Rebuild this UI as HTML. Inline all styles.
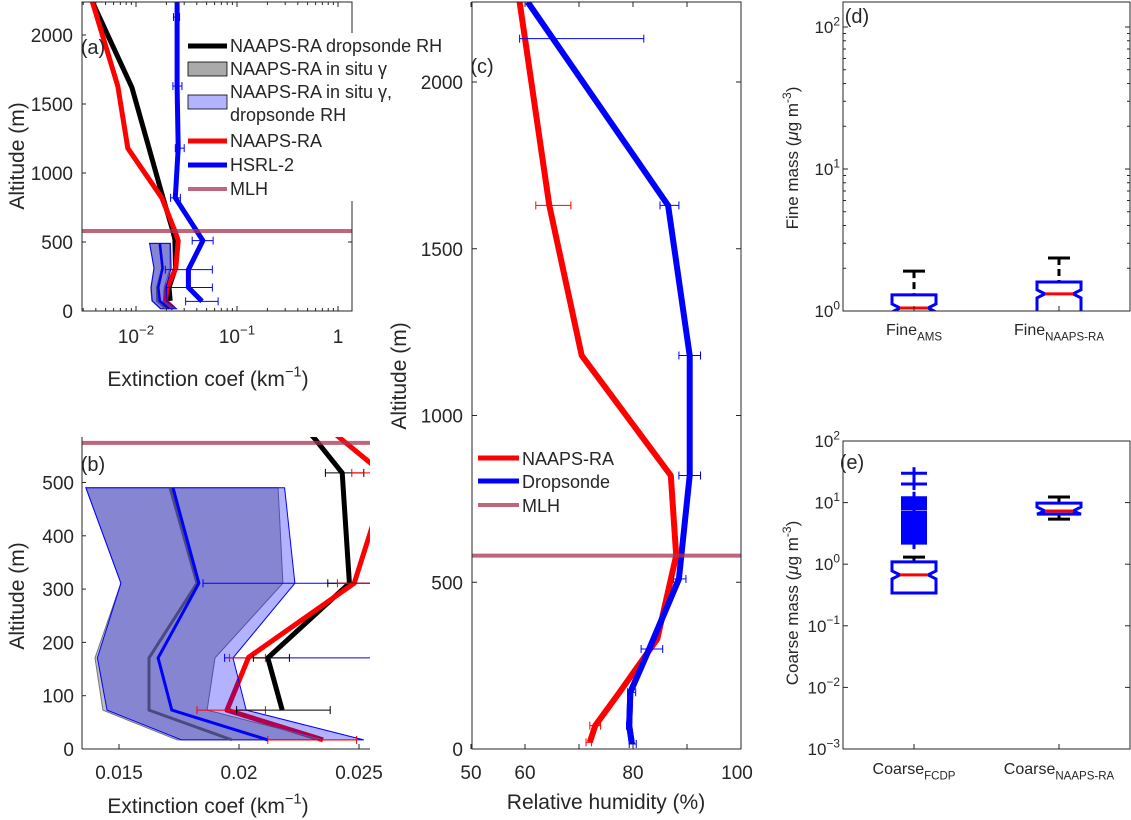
<!DOCTYPE html>
<html><head><meta charset="utf-8"><style>
html,body{margin:0;padding:0;background:#fff;}
svg{display:block;font-family:"Liberation Sans",sans-serif;}
text{fill:#262626;}
</style></head><body>
<svg id="fig" width="1131" height="820" viewBox="0 0 1131 820" xmlns="http://www.w3.org/2000/svg"></svg>
<script>
// ---- data ----
const bandAlt = [490, 311, 171, 73, 17];
const grayLo = [0.01362, 0.01508, 0.0140, 0.01433, 0.01742];
const grayHi = [0.02163, 0.02183, 0.0190, 0.01867, 0.0235];
const grayMid = [0.01713, 0.01825, 0.01625, 0.01625, 0.0197];
const blueLo = [0.01362, 0.01508, 0.01410, 0.01450, 0.01760];
const blueHi = [0.0219, 0.02233, 0.01975, 0.0203, 0.0252];
const blueMid = [0.01725, 0.01833, 0.01663, 0.0172, 0.0212];
const blackAlt = [2240, 1620, 820, 580, 518, 311, 171, 73];
const blackVal = [0.0037, 0.0091, 0.0185, 0.0232, 0.0243, 0.0246, 0.0212, 0.0218];
const redAlt = [2240, 1630, 1180, 820, 580, 510, 311, 172, 73, 17];
const redVal = [0.0037, 0.0066, 0.0083, 0.018, 0.0243, 0.0262, 0.0248, 0.0204, 0.0195, 0.0235];
const hsrlAlt = [2240, 2130, 1630, 1180, 820, 510, 300, 170, 70];
const hsrlVal = [0.0255, 0.0255, 0.0255, 0.0262, 0.0245, 0.046, 0.033, 0.033, 0.045];
const hsrlErrLo = [null, 0.0235, 0.0232, 0.0245, 0.022, 0.036, 0.0195, 0.0200, 0.031];
const hsrlErrHi = [null, 0.027, 0.0285, 0.030, 0.0275, 0.058, 0.057, 0.057, 0.065];
const mlh = 580;
// panel b error bars
const bErrAlt = [518, 518, 311, 311, 311, 171, 171, 171, 73, 73, 17];
const bErrLo = [0.0236, 0.0247, 0.0185, 0.0237, 0.0241, 0.0194, 0.0196, 0.0206, 0.01825, 0.0199, 0.0212];
const bErrHi = [0.0252, 0.026, 0.030, 0.0260, 0.026, 0.030, 0.0211, 0.0221, 0.0211, 0.0238, 0.0249];
const bErrCol = ['#000', 'red', 'blue', '#000', 'red', 'blue', 'red', '#000', 'red', '#000', 'red'];
// panel c
const rhRedAlt = [2240, 2130, 1630, 1180, 820, 580, 330, 170, 70, 20];
const rhRedVal = [59, 60, 64.5, 70.5, 87, 88, 84.5, 77.5, 73, 72];
const rhRedLo = [null, null, 62, null, null, null, null, null, 72, 71.3];
const rhRedHi = [null, null, 68.5, null, null, null, null, null, 74, 72.3];
const rhBlueAlt = [2240, 1630, 1180, 820, 510, 300, 170, 70, 15];
const rhBlueVal = [60.5, 86.5, 90.5, 90.5, 88.5, 83, 79.5, 79.3, 79.8];
const rhBlueLo = [null, 85, 88.5, 88.5, 87.5, 81.5, 79, 78.8, 79.3];
const rhBlueHi = [null, 88.5, 92.5, 92.5, 89.8, 85.5, 80.5, 79.6, 80.6];
const rhErrAlt2 = 2130, rhErrLo2 = 59, rhErrHi2 = 82;
// panel d boxes
const fineCats = ['AMS', 'NAAPS-RA'];
const fineQ1 = [0.9, 0.9], fineMed = [1.05, 1.32], fineQ3 = [1.30, 1.60], fineWhiskHi = [1.91, 2.36];
// panel e boxes
const coarseCats = ['FCDP', 'NAAPS-RA'];
const coarseQ1 = [0.34, 6.5], coarseMed = [0.67, 7.3], coarseQ3 = [1.09, 9.8];
const coarseWhiskHi = [1.3, 12.3], coarseWhiskLo = [0.34, 5.4];
const coarseOutliers = [2.2, 2.4, 2.6, 2.8, 3.0, 3.3, 3.6, 4.0, 4.4, 4.8, 5.2, 5.6, 6.0, 6.5, 7.0, 8.0, 8.5, 9.0, 10, 11, 12, 20, 30];

// ---- helpers ----
const NS = 'http://www.w3.org/2000/svg';
const svg = document.getElementById('fig');
const TICK = 19, TITLE = 21, LEG = 18, PLAB = 20;
function mk(tag, attrs, parent) {
  const e = document.createElementNS(NS, tag);
  for (const k in attrs) e.setAttribute(k, attrs[k]);
  (parent || svg).appendChild(e);
  return e;
}
function txt(s, x, y, size, anchor, parent) {
  const t = mk('text', {x: x, y: y, 'font-size': size, 'text-anchor': anchor || 'middle'}, parent);
  t.textContent = s;
  return t;
}
function sup(base, exp, x, y, size, anchor, parent) {
  const t = mk('text', {x: x, y: y, 'font-size': size, 'text-anchor': anchor || 'middle'}, parent);
  const a = document.createElementNS(NS, 'tspan'); a.textContent = base; t.appendChild(a);
  const b = document.createElementNS(NS, 'tspan'); b.setAttribute('dy', -size * 0.45); b.setAttribute('font-size', size * 0.7); b.textContent = exp; t.appendChild(b);
  return t;
}
function sub(base, s, x, y, size, parent) {
  const t = mk('text', {x: x, y: y, 'font-size': size, 'text-anchor': 'middle'}, parent);
  const a = document.createElementNS(NS, 'tspan'); a.textContent = base; t.appendChild(a);
  const b = document.createElementNS(NS, 'tspan'); b.setAttribute('dy', size * 0.35); b.setAttribute('font-size', size * 0.72); b.textContent = s; t.appendChild(b);
  return t;
}
function poly(xs, ys, fx, fy, attrs, parent) {
  const pts = xs.map((v, i) => fx(v).toFixed(1) + ',' + fy(ys[i]).toFixed(1)).join(' ');
  return mk('polyline', Object.assign({points: pts, fill: 'none'}, attrs), parent);
}
function band(lo, hi, alts, fx, fy, attrs, parent) {
  let pts = lo.map((v, i) => fx(v).toFixed(1) + ',' + fy(alts[i]).toFixed(1));
  pts = pts.concat(hi.map((v, i) => fx(v).toFixed(1) + ',' + fy(alts[i]).toFixed(1)).reverse());
  return mk('polygon', Object.assign({points: pts.join(' ')}, attrs), parent);
}
function errbar(lo, hi, y, fx, col, parent) {
  const g = mk('g', {stroke: col, 'stroke-width': 1, fill: 'none'}, parent);
  const x1 = fx(lo), x2 = fx(hi);
  mk('line', {x1: x1, x2: x2, y1: y, y2: y}, g);
  mk('line', {x1: x1, x2: x1, y1: y - 4, y2: y + 4}, g);
  mk('line', {x1: x2, x2: x2, y1: y - 4, y2: y + 4}, g);
  return g;
}
function clip(id, x, y, w, h) {
  const c = mk('clipPath', {id: id});
  mk('rect', {x: x, y: y, width: w, height: h}, c);
}
function frame(x, y, w, h, parent) {
  return mk('rect', {x: x, y: y, width: w, height: h, fill: 'none', stroke: '#262626', 'stroke-width': 1}, parent);
}
function extTitle(x, y, ax, name) {
  const xl = sup('Extinction coef (km', '\u22121', x, y, TITLE, 'middle', ax);
  const t3 = document.createElementNS(NS, 'tspan'); t3.setAttribute('dy', TITLE * 0.45); t3.setAttribute('font-size', TITLE); t3.textContent = ')'; xl.appendChild(t3);
   
}

// ---- Panel A ----
(function () {
  const L = 82, R = 352, T = 2, B = 311;
  const fx = v => 136 + (Math.log10(v) + 2) * 101;
  const fy = a => B - a * 0.138;
  clip('clipA', L, T, R - L, B - T);
  const g = mk('g', {'clip-path': 'url(#clipA)'});
  
  
  const bl = poly(blackVal, blackAlt, fx, fy, {stroke: '#000', 'stroke-width': 5, 'stroke-linejoin': 'round'}, g);
   
  const rd = poly(redVal, redAlt, fx, fy, {stroke: 'red', 'stroke-width': 5, 'stroke-linejoin': 'round'}, g);
   
  const gb = band(grayLo, grayHi, bandAlt, fx, fy, {fill: 'rgba(128,128,128,0.5)', stroke: '#666', 'stroke-width': 1}, g);
   
  const bb = band(blueLo, blueHi, bandAlt, fx, fy, {fill: 'rgba(0,0,255,0.3)', stroke: 'blue', 'stroke-width': 1}, g);
   
  poly(grayMid, bandAlt, fx, fy, {stroke: '#4a4a80', 'stroke-width': 2.5}, g);
  poly(blueMid, bandAlt, fx, fy, {stroke: 'blue', 'stroke-width': 2.5}, g);
  const hs = poly(hsrlVal, hsrlAlt, fx, fy, {stroke: 'blue', 'stroke-width': 5, 'stroke-linejoin': 'round'}, g);
   
  hsrlAlt.forEach((a, i) => { if (hsrlErrLo[i] != null) errbar(hsrlErrLo[i], hsrlErrHi[i], fy(a), fx, 'blue', g); });
  const m = mk('line', {x1: L, x2: R, y1: fy(mlh), y2: fy(mlh), stroke: 'rgba(170,50,80,0.75)', 'stroke-width': 4}, g);
   
  const ax = mk('g', {});
   
  frame(L, T, R - L, B - T, ax);
  [0, 500, 1000, 1500, 2000].forEach(a => {
    mk('line', {x1: L, x2: L + 4, y1: fy(a), y2: fy(a), stroke: '#262626'}, ax);
    mk('line', {x1: R, x2: R - 4, y1: fy(a), y2: fy(a), stroke: '#262626'}, ax);
    txt(String(a), L - 9, fy(a) + 7, TICK, 'end', ax);
  });
  [-2, -1, 0].forEach(p => {
    const x = fx(Math.pow(10, p));
    mk('line', {x1: x, x2: x, y1: B, y2: B - 5, stroke: '#262626'}, ax);
    mk('line', {x1: x, x2: x, y1: T, y2: T + 5, stroke: '#262626'}, ax);
    if (p === 0) txt('1', x, B + 32, TICK, 'middle', ax);
    else sup('10', String(p).replace('-', '\u2212'), x, B + 32, TICK, 'middle', ax);
  });
  for (let p = -3; p <= 0; p++) for (let k = 2; k <= 9; k++) {
    const x = fx(k * Math.pow(10, p));
    if (x > L && x < R) { mk('line', {x1: x, x2: x, y1: B, y2: B - 3, stroke: '#262626'}, ax); mk('line', {x1: x, x2: x, y1: T, y2: T + 3, stroke: '#262626'}, ax); }
  }
  extTitle(208, 386, ax, 'panel-a-x-axis-title');
  const yl = txt('Altitude (m)', 0, 0, TITLE, 'middle', ax);
  yl.setAttribute('transform', 'translate(24,156) rotate(-90)');
   
  txt('(a)', 93, 54, PLAB, 'middle', ax);
  // legend
  const lg = mk('g', {});
   
  mk('rect', {x: 186, y: 33, width: 168, height: 168, fill: '#fff'}, lg);
  const rows = [
    {y: 46, type: 'line', col: '#000', lab: ['NAAPS-RA dropsonde RH']},
    {y: 69, type: 'box', col: '#aaa', lab: ['NAAPS-RA in situ \u03B3']},
    {y: 102, type: 'box', col: '#b3b3ff', lab: ['NAAPS-RA in situ \u03B3,', 'dropsonde RH']},
    {y: 141, type: 'line', col: 'red', lab: ['NAAPS-RA']},
    {y: 165, type: 'line', col: 'blue', lab: ['HSRL-2']},
    {y: 189, type: 'line', col: 'rgba(170,50,80,0.75)', lab: ['MLH']}
  ];
  rows.forEach(r => {
    if (r.type === 'line') mk('line', {x1: 188, x2: 227, y1: r.y, y2: r.y, stroke: r.col, 'stroke-width': r.col === '#000' || r.col === 'red' || r.col === 'blue' ? 5 : 4}, lg);
    else mk('rect', {x: 188, y: r.y - 7, width: 39, height: 14, fill: r.col, stroke: '#000', 'stroke-width': 0.8}, lg);
    const y0 = r.lab.length > 1 ? r.y - 10 : r.y;
    r.lab.forEach((s, i) => { txt(s, 230, y0 + 6 + i * 23, LEG, 'start', lg); });
  });
})();

// ---- Panel B ----
(function () {
  const L = 82, R = 370, T = 437, B = 749;
  const fx = v => 119 + (v - 0.015) / 0.005 * 120;
  const fy = a => B - a * 0.533;
  clip('clipB', L, T, R - L, B - T);
  const g = mk('g', {'clip-path': 'url(#clipB)'});
   
  const bl = poly(blackVal, blackAlt, fx, fy, {stroke: '#000', 'stroke-width': 5, 'stroke-linejoin': 'round'}, g);
   
  const rd = poly(redVal, redAlt, fx, fy, {stroke: 'red', 'stroke-width': 5, 'stroke-linejoin': 'round'}, g);
   
  const gb = band(grayLo, grayHi, bandAlt, fx, fy, {fill: 'rgba(128,128,128,0.5)', stroke: '#777', 'stroke-width': 1}, g);
   
  const bb = band(blueLo, blueHi, bandAlt, fx, fy, {fill: 'rgba(0,0,255,0.3)', stroke: 'blue', 'stroke-width': 1}, g);
   
  poly(grayMid, bandAlt, fx, fy, {stroke: '#4a4a80', 'stroke-width': 3}, g);
  poly(blueMid, bandAlt, fx, fy, {stroke: 'blue', 'stroke-width': 3}, g);
  bErrAlt.forEach((a, i) => errbar(bErrLo[i], bErrHi[i], fy(a), fx, bErrCol[i], g));
  const m = mk('line', {x1: L, x2: R, y1: fy(mlh) + 3, y2: fy(mlh) + 3, stroke: 'rgba(170,50,80,0.75)', 'stroke-width': 4}, g);
   
  const ax = mk('g', {});
   
  mk('line', {x1: L, x2: L, y1: T, y2: B, stroke: '#262626'}, ax);
  mk('line', {x1: L, x2: R, y1: B, y2: B, stroke: '#262626'}, ax);
  [0, 100, 200, 300, 400, 500].forEach(a => {
    mk('line', {x1: L, x2: L + 4, y1: fy(a), y2: fy(a), stroke: '#262626'}, ax);
    txt(String(a), L - 8, fy(a) + 7, TICK, 'end', ax);
  });
  [0.015, 0.02, 0.025].forEach(v => {
    mk('line', {x1: fx(v), x2: fx(v), y1: B, y2: B - 5, stroke: '#262626'}, ax);
    txt(String(v), fx(v), B + 30, TICK, 'middle', ax);
  });
  extTitle(208, 813, ax, 'panel-b-x-axis-title');
  const yl = txt('Altitude (m)', 0, 0, TITLE, 'middle', ax);
  yl.setAttribute('transform', 'translate(24,596) rotate(-90)');
   
  txt('(b)', 93, 471, PLAB, 'middle', ax);
})();

// ---- Panel C ----
(function () {
  const L = 472, R = 741, T = 2, B = 749;
  const fx = v => 471 + (v - 50) * 5.4;
  const fy = a => B - a * 0.3335;
  clip('clipC', L, T, R - L, B - T);
  const g = mk('g', {'clip-path': 'url(#clipC)'});
   
  const bl = poly(rhBlueVal, rhBlueAlt, fx, fy, {stroke: 'blue', 'stroke-width': 6, 'stroke-linejoin': 'round'}, g);
   
  const rd = poly(rhRedVal, rhRedAlt, fx, fy, {stroke: 'red', 'stroke-width': 6, 'stroke-linejoin': 'round'}, g);
   
  poly(rhBlueVal.slice(4), rhBlueAlt.slice(4), fx, fy, {stroke: 'blue', 'stroke-width': 6, 'stroke-linejoin': 'round'}, g);
  rhBlueAlt.forEach((a, i) => { if (rhBlueLo[i] != null) errbar(rhBlueLo[i], rhBlueHi[i], fy(a), fx, 'blue', g); });
  rhRedAlt.forEach((a, i) => { if (rhRedLo[i] != null) errbar(rhRedLo[i], rhRedHi[i], fy(a), fx, 'red', g); });
  errbar(rhErrLo2, rhErrHi2, fy(rhErrAlt2), fx, 'blue', g);
  const m = mk('line', {x1: L, x2: R, y1: fy(mlh), y2: fy(mlh), stroke: 'rgba(170,50,80,0.75)', 'stroke-width': 4}, g);
   
  const ax = mk('g', {});
   
  frame(L, T, R - L, B - T, ax);
  [0, 500, 1000, 1500, 2000].forEach(a => {
    mk('line', {x1: L, x2: L + 5, y1: fy(a), y2: fy(a), stroke: '#262626'}, ax);
    mk('line', {x1: R, x2: R - 5, y1: fy(a), y2: fy(a), stroke: '#262626'}, ax);
    txt(String(a), L - 9, fy(a) + 7, TICK, 'end', ax);
  });
  [50, 60, 70, 80, 90, 100].forEach(v => {
    mk('line', {x1: fx(v), x2: fx(v), y1: B, y2: B - 5, stroke: '#262626'}, ax);
    mk('line', {x1: fx(v), x2: fx(v), y1: T, y2: T + 5, stroke: '#262626'}, ax);
    if (v % 20 === 0 || v === 50) txt(String(v), fx(v) + (v === 100 ? -4 : 0), B + 30, TICK, 'middle', ax);
  });
  const xl = txt('Relative humidity (%)', 606, 809, TITLE, 'middle', ax);
   
  const yl = txt('Altitude (m)', 0, 0, TITLE, 'middle', ax);
  yl.setAttribute('transform', 'translate(406,376) rotate(-90)');
   
  txt('(c)', 482, 73, PLAB, 'middle', ax);
  const lg = mk('g', {});
   
  [['NAAPS-RA', 'red', 458], ['Dropsonde', 'blue', 481], ['MLH', 'rgba(170,50,80,0.75)', 505]].forEach(r => {
    mk('line', {x1: 478, x2: 519, y1: r[2], y2: r[2], stroke: r[1], 'stroke-width': r[0] === 'MLH' ? 4 : 5}, lg);
    txt(r[0], 522, r[2] + 7, LEG, 'start', lg);
  });
})();

// ---- Box plot helper ----
function boxplot(g, cx, fy, q1, med, q3, whi, wlo, clipBottom) {
  const hw = 22, nw = 14;
  const yq3 = fy(q3), yq1 = Math.min(fy(q1), clipBottom), ym = fy(med);
  mk('line', {x1: cx, x2: cx, y1: fy(whi), y2: yq3, stroke: '#000', 'stroke-width': 3, 'stroke-dasharray': '7,4'}, g);
  mk('line', {x1: cx - 11, x2: cx + 11, y1: fy(whi), y2: fy(whi), stroke: '#000', 'stroke-width': 3}, g);
  if (wlo != null && fy(wlo) > yq1 + 1) {
    mk('line', {x1: cx, x2: cx, y1: yq1, y2: fy(wlo), stroke: '#000', 'stroke-width': 3}, g);
    mk('line', {x1: cx - 11, x2: cx + 11, y1: fy(wlo), y2: fy(wlo), stroke: '#000', 'stroke-width': 3}, g);
  }
  const pts = [[cx - hw, yq3], [cx + hw, yq3], [cx + hw, Math.max(yq3, ym - 4)], [cx + nw, ym], [cx + hw, Math.min(yq1, ym + 4)], [cx + hw, yq1], [cx - hw, yq1], [cx - hw, Math.min(yq1, ym + 4)], [cx - nw, ym], [cx - hw, Math.max(yq3, ym - 4)]];
  mk('polygon', {points: pts.map(p => p[0] + ',' + p[1]).join(' '), fill: 'none', stroke: 'blue', 'stroke-width': 3}, g);
  mk('line', {x1: cx - nw, x2: cx + nw, y1: ym, y2: ym, stroke: 'red', 'stroke-width': 3}, g);
}

// ---- Panel D ----
(function () {
  const L = 843, R = 1130, T = 2, B = 311;
  const fy = v => B - Math.log10(v) * 142;
  const xs = [914, 1059];
  clip('clipD', L, T, R - L, B - T);
  const g = mk('g', {'clip-path': 'url(#clipD)'});
   
  fineCats.forEach((c, i) => boxplot(g, xs[i], fy, fineQ1[i], fineMed[i], fineQ3[i], fineWhiskHi[i], null, B + 5));
  const ax = mk('g', {});
   
  frame(L, T, R - L, B - T, ax);
  [0, 1, 2].forEach(p => {
    mk('line', {x1: L, x2: L + 5, y1: fy(Math.pow(10, p)), y2: fy(Math.pow(10, p)), stroke: '#262626'}, ax);
    mk('line', {x1: R, x2: R - 5, y1: fy(Math.pow(10, p)), y2: fy(Math.pow(10, p)), stroke: '#262626'}, ax);
    sup('10', String(p), L - 3, fy(Math.pow(10, p)) + 6, 17, 'end', ax);
  });
  for (let p = 0; p < 3; p++) for (let k = 2; k <= 9; k++) {
    const y = fy(k * Math.pow(10, p));
    if (y > T) { mk('line', {x1: L, x2: L + 3, y1: y, y2: y, stroke: '#262626'}, ax); mk('line', {x1: R, x2: R - 3, y1: y, y2: y, stroke: '#262626'}, ax); }
  }
  xs.forEach((x, i) => {
    mk('line', {x1: x, x2: x, y1: B, y2: B - 5, stroke: '#262626'}, ax);
    sub('Fine', fineCats[i], x, 335, 16, ax);
  });
  const yl = mk('text', {x: 0, y: 0, 'font-size': 17, 'text-anchor': 'middle', transform: 'translate(798,158) rotate(-90)'}, ax);
  yl.innerHTML = 'Fine mass (<tspan font-style="italic">\u03BC</tspan>g m<tspan dy="-7" font-size="12">-3</tspan><tspan dy="7">)</tspan>';
   
  txt('(d)', 857, 23, PLAB, 'middle', ax);
})();

// ---- Panel E ----
(function () {
  const L = 843, R = 1130, T = 441, B = 749;
  const fy = v => T + (2 - Math.log10(v)) * 61.6;
  const xs = [914, 1059];
  const g = mk('g', {});
   
  const og = mk('g', {stroke: 'blue', 'stroke-width': 3}, g);
   
  coarseOutliers.forEach(v => {
    const y = fy(v);
    mk('line', {x1: xs[0] - 13, x2: xs[0] + 13, y1: y, y2: y}, og);
    mk('line', {x1: xs[0], x2: xs[0], y1: y - 6, y2: y + 6}, og);
  });
  coarseCats.forEach((c, i) => boxplot(g, xs[i], fy, coarseQ1[i], coarseMed[i], coarseQ3[i], coarseWhiskHi[i], coarseWhiskLo[i], 9999));
  const ax = mk('g', {});
   
  frame(L, T, R - L, B - T, ax);
  [-3, -2, -1, 0, 1, 2].forEach(p => {
    const y = fy(Math.pow(10, p));
    mk('line', {x1: L, x2: L + 5, y1: y, y2: y, stroke: '#262626'}, ax);
    mk('line', {x1: R, x2: R - 5, y1: y, y2: y, stroke: '#262626'}, ax);
    sup('10', String(p).replace('-', '\u2212'), L - 3, y + 6, 17, 'end', ax);
  });
  xs.forEach((x, i) => {
    mk('line', {x1: x, x2: x, y1: B, y2: B - 5, stroke: '#262626'}, ax);
    sub('Coarse', coarseCats[i], x, 774, 16, ax);
  });
  const yl = mk('text', {x: 0, y: 0, 'font-size': 17, 'text-anchor': 'middle', transform: 'translate(798,603) rotate(-90)'}, ax);
  yl.innerHTML = 'Coarse mass (<tspan font-style="italic">\u03BC</tspan>g m<tspan dy="-7" font-size="12">-3</tspan><tspan dy="7">)</tspan>';
   
  txt('(e)', 852, 469, PLAB, 'middle', ax);
})();
</script>
</body></html>
